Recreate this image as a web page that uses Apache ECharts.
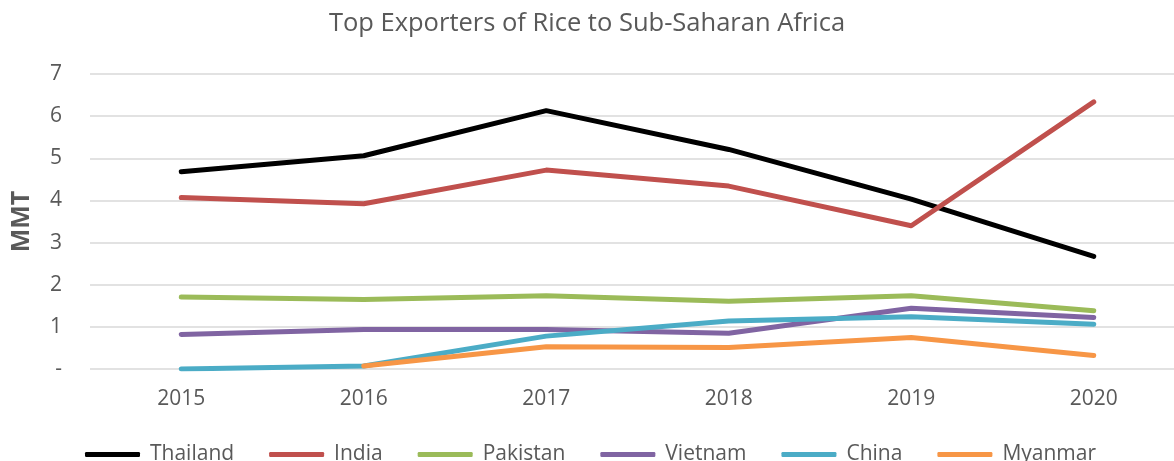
<!DOCTYPE html>
<html>
<head>
<meta charset="utf-8">
<script src="https://cdn.jsdelivr.net/npm/echarts@6/dist/echarts.min.js"></script>
<style>
  html, body { margin: 0; padding: 0; background: #fff; }
  #chart { width: 1174px; height: 461px; }
</style>
</head>
<body>
<div id="chart"></div>
<script>
// 年份 / 各国出口量 (MMT)
const years = ['2015', '2016', '2017', '2018', '2019', '2020']
const thailand = [4.68, 5.06, 6.13, 5.21, 4.03, 2.67]
const india = [4.07, 3.92, 4.72, 4.34, 3.40, 6.34]
const pakistan = [1.71, 1.65, 1.74, 1.61, 1.74, 1.38]
const vietnam = [0.82, 0.94, 0.94, 0.85, 1.44, 1.22]
const china = [0.00, 0.07, 0.78, 1.14, 1.24, 1.06]
const myanmar = [null, 0.07, 0.53, 0.51, 0.75, 0.32]

const seriesNames = ['Thailand', 'India', 'Pakistan', 'Vietnam', 'China', 'Myanmar']
const seriesData = [thailand, india, pakistan, vietnam, china, myanmar]
const colors = ['#000000', '#C0504D', '#9BBB59', '#8064A2', '#4BACC6', '#F79646']

const font = '"Open Sans", "Liberation Sans", sans-serif'
const textColor = '#595959'

const chart = echarts.init(document.getElementById('chart'))

const option = {
  animation: false,
  color: colors,
  title: {
    text: 'Top Exporters of Rice to Sub-Saharan Africa',
    left: 'center',
    top: 6,
    textStyle: { fontFamily: font, fontSize: 25.5, fontWeight: 'normal', color: textColor }
  },
  legend: {
    left: 80,
    top: 439,
    itemWidth: 55,
    itemHeight: 5,
    itemGap: 35,
    icon: 'roundRect',
    textStyle: { fontFamily: font, fontSize: 21, color: textColor, padding: [0, 0, 0, 5] },
    data: seriesNames
  },
  grid: {
    left: 90,
    width: 1095,
    top: 74,
    bottom: 92,
    outerBoundsMode: 'none'
  },
  xAxis: {
    type: 'category',
    data: years,
    boundaryGap: true,
    axisLine: { show: false },
    axisTick: { show: false },
    axisLabel: { fontFamily: font, fontSize: 21, color: textColor, margin: 20 }
  },
  yAxis: {
    type: 'value',
    min: 0,
    max: 7,
    interval: 1,
    name: 'MMT',
    nameLocation: 'middle',
    nameGap: 56,
    nameRotate: 90,
    nameTextStyle: { fontFamily: font, fontSize: 25, fontWeight: 'bold', color: textColor },
    axisLabel: {
      fontFamily: font, fontSize: 21, color: textColor, margin: 28,
      formatter: v => v === 0 ? '-' : String(v)
    },
    splitLine: { lineStyle: { color: '#d9d9d9', width: 1.5 } }
  },
  series: seriesData.map((d, i) => ({
    name: seriesNames[i],
    type: 'line',
    data: d,
    showSymbol: false,
    symbol: 'none',
    lineStyle: { width: 5, color: colors[i], cap: 'round', join: 'round' },
    itemStyle: { color: colors[i] }
  }))
}

chart.setOption(option)
</script>
</body>
</html>
